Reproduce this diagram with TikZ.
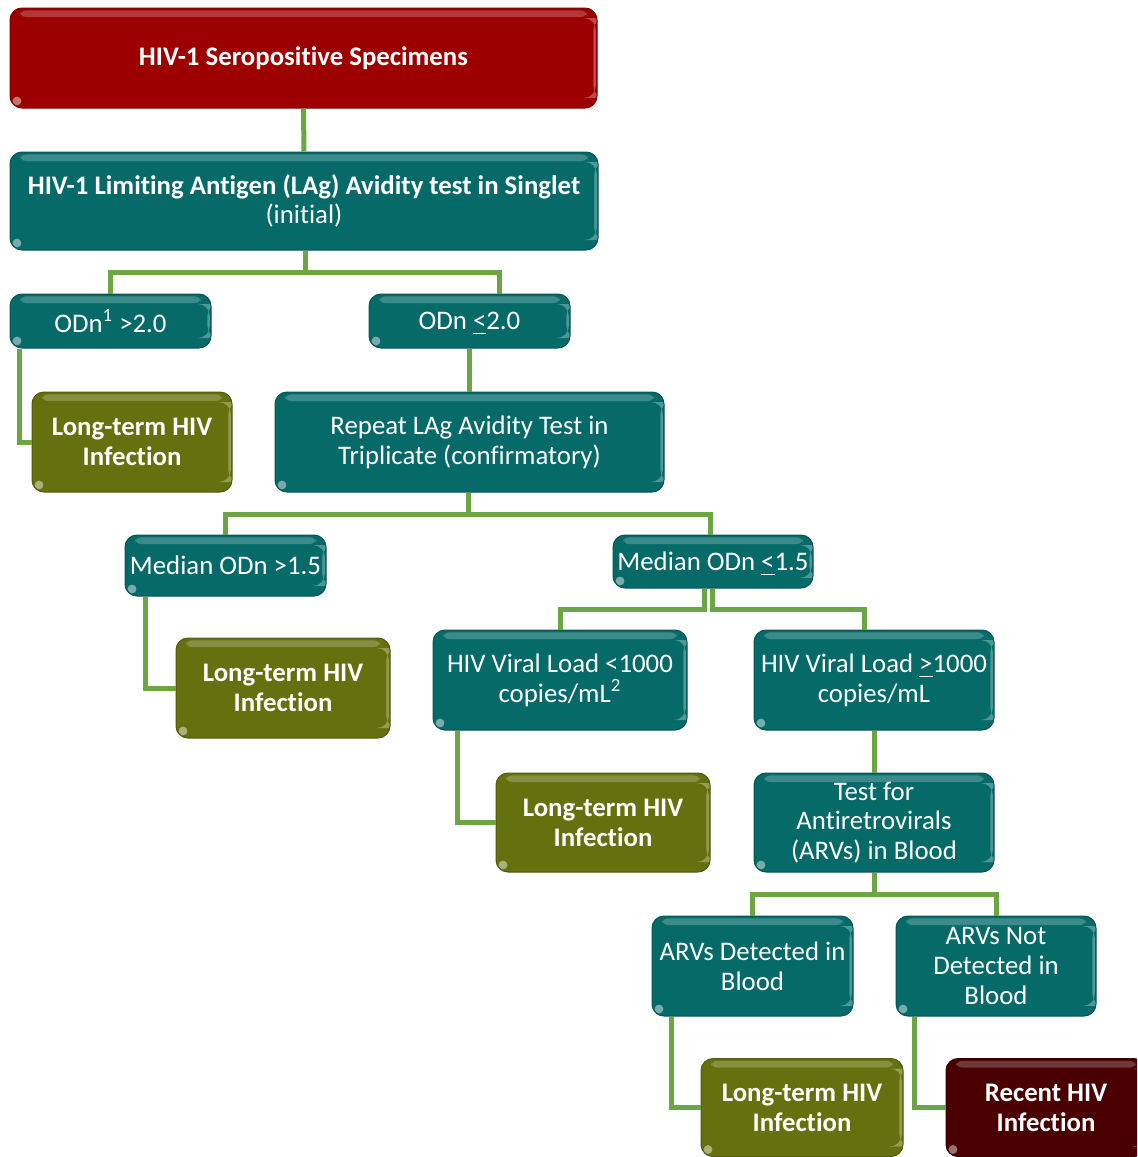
\documentclass[tikz,border=0pt]{standalone}
\usepackage{amsmath}
\usepackage{fontspec}
\setmainfont{Carlito}[Ligatures=NoCommon]

\definecolor{hivred}{HTML}{9C0000}
\definecolor{hivteal}{HTML}{066A69}
\definecolor{hivolive}{HTML}{65710F}
\definecolor{hivmaroon}{HTML}{4A0000}
\definecolor{hivgreen}{HTML}{6BA544}

\newcommand\ulsym[1]{\smash[b]{\underline{#1}}}

\tikzset{
  box/.style={fill=#1, draw=#1!80!black, line width=0.5pt, rounded corners=6pt,
    text=white, align=center, inner sep=1pt,
    font=\fontsize{13.4}{14.9}\selectfont,
    path picture={
      \fill[white, opacity=0.22, rounded corners=3pt]
        ([xshift=5pt,yshift=-1.2pt]path picture bounding box.north west) rectangle
        ([xshift=-5pt,yshift=-4.5pt]path picture bounding box.north east);
      \fill[white, opacity=0.3]
        ([xshift=-1.8pt,yshift=-5pt]path picture bounding box.north east) rectangle
        ([xshift=-0.6pt,yshift=5pt]path picture bounding box.south east);
      \fill[white, opacity=0.45]
        ([xshift=3.5pt,yshift=3.5pt]path picture bounding box.south west) circle (2.2pt);
    }},
  bold/.style={font=\fontsize{13.4}{14.9}\selectfont\bfseries},
  link/.style={draw=hivgreen, line width=2.5pt},
}

\begin{document}
\begin{tikzpicture}[x=0.5pt, y=-0.5pt]
  \clip (0,0) rectangle (1137,1157);

  % level 1 and 2
  \node[box=hivred, bold, minimum width=293.5pt, minimum height=50pt] (spec) at (303.5,58)
    {HIV-1 Seropositive Specimens};
  \node[box=hivteal, minimum width=294pt, minimum height=49pt] (lag) at (304,201)
    {\textbf{HIV-1 Limiting Antigen (LAg) Avidity test in Singlet}\\(initial)};

  % initial result
  \node[box=hivteal, minimum width=100.5pt, minimum height=27pt] (odnhi) at (110.5,321)
    {ODn\textsuperscript{1} >2.0};
  \node[box=hivteal, minimum width=100.5pt, minimum height=27pt] (odnlo) at (469.5,321)
    {ODn \ulsym{<}2.0};
  \node[box=hivolive, bold, minimum width=100pt, minimum height=50pt] (lta) at (132,442)
    {Long-term HIV\\Infection};
  \node[box=hivteal, minimum width=194.5pt, minimum height=50pt] (rep) at (469.5,442)
    {Repeat LAg Avidity Test in\\Triplicate (confirmatory)};

  % confirmatory result
  \node[box=hivteal, minimum width=100.5pt, minimum height=30.5pt] (medhi) at (225.5,565.5)
    {Median ODn >1.5};
  \node[box=hivteal, minimum width=100pt, minimum height=26.5pt] (medlo) at (713,561.5)
    {Median ODn \ulsym{<}1.5};
  \node[box=hivolive, bold, minimum width=107pt, minimum height=50pt] (ltb) at (283,688)
    {Long-term HIV\\Infection};

  % viral load
  \node[box=hivteal, minimum width=127pt, minimum height=50pt] (vllo) at (560,680)
    {HIV Viral Load <1000\\copies/mL\textsuperscript{2}};
  \node[box=hivteal, minimum width=120pt, minimum height=50pt] (vlhi) at (874,680)
    {HIV Viral Load \ulsym{>}1000\\copies/mL};
  \node[box=hivolive, bold, minimum width=107pt, minimum height=49.5pt] (ltc) at (603,822.5)
    {Long-term HIV\\Infection};
  \node[box=hivteal, minimum width=120pt, minimum height=49.5pt] (arv) at (874,822.5)
    {Test for\\Antiretrovirals\\(ARVs) in Blood};

  % ARV result
  \node[box=hivteal, minimum width=100.5pt, minimum height=50pt] (arvyes) at (752.5,966)
    {ARVs Detected in\\Blood};
  \node[box=hivteal, minimum width=100pt, minimum height=50pt] (arvno) at (996,966)
    {ARVs Not\\Detected in\\Blood};
  \node[box=hivolive, bold, minimum width=101pt, minimum height=49pt] (ltd) at (802,1107.5)
    {Long-term HIV\\Infection};
  \node[box=hivmaroon, bold, minimum width=100pt, minimum height=49pt] (recent) at (1046,1107.5)
    {Recent HIV\\Infection};

  % joints
  \coordinate (j1) at (305,272);
  \coordinate (j2) at (468,514);
  \coordinate (j3) at (874,894);

  % connectors
  \draw[link] (spec.south) -- (lag.north);
  \draw[link] (lag.south -| j1) -- (j1) -| (odnhi.north);
  \draw[link] (j1) -| ([xshift=15pt]odnlo.north);
  \draw[link] ([xshift=5pt]odnhi.south west) |- (lta.west);
  \draw[link] (odnlo.south) -- (rep.north);
  \draw[link] (rep.south -| j2) -- (j2) -| (medhi.north);
  \draw[link] (j2) -| (medlo.north -| 710,0);
  \draw[link] ([xshift=10.5pt]medhi.south west) |- (ltb.west);
  \draw[link] ([xshift=-4.5pt]medlo.south) -- ++(0,21) -| (vllo.north);
  \draw[link] ([xshift=-0.5pt]medlo.south) -- ++(0,21) -| ([xshift=-5pt]vlhi.north);
  \draw[link] ([xshift=12.5pt]vllo.south west) |- (ltc.west);
  \draw[link] (vlhi.south) -- (arv.north);
  \draw[link] (arv.south) -- (j3) -| (arvyes.north);
  \draw[link] (j3) -| (arvno.north);
  \draw[link] ([xshift=10pt]arvyes.south west) |- (ltd.west);
  \draw[link] ([xshift=9.5pt]arvno.south west) |- (recent.west);
\end{tikzpicture}
\end{document}
